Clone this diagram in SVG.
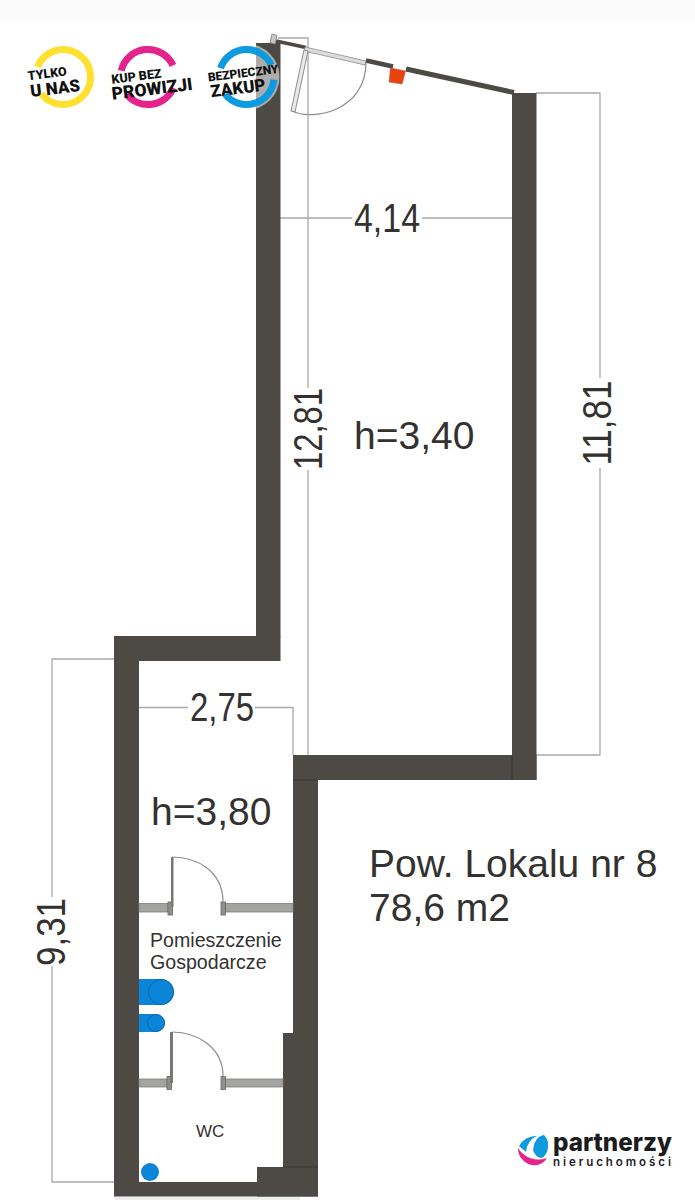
<svg xmlns="http://www.w3.org/2000/svg" width="695" height="1200" viewBox="0 0 695 1200">
<style>
.w{fill:#4d4945}
.p{fill:#a3a3a1;stroke:#7d7d7b;stroke-width:.8}
.j{fill:#8f8f8d;stroke:#666;stroke-width:.8}
.dim{fill:none;stroke:#a9a9a9;stroke-width:1.3}
.arc{fill:none;stroke:#8d8d8d;stroke-width:1.2}
.t{font-family:"Liberation Sans",Arial,sans-serif;fill:#333230}
.d{font-size:40px;text-anchor:middle}
.b{font-family:"Roboto","Liberation Sans",sans-serif;font-weight:900;fill:#111;text-anchor:middle}
.r{fill:none;stroke-width:7}
</style>
<rect width="695" height="1200" fill="#fff"/>
<rect width="695" height="22" fill="#fbfbfb"/>
<rect x="115" y="1197" width="185" height="3" fill="#eee"/>
<g id="connectors">
<path class="dim" d="M280 218H352M422 218H512"/>
<path class="dim" d="M278 38H308V388M308 470V755"/>
<path class="dim" d="M536 93H600V378M600 468V755H536"/>
<path class="dim" d="M139 707.500H188M255 707.500H293V755"/>
<path class="dim" d="M114 659H52V897M52 966V1182H114"/>
</g>
<g id="walls">
<rect class="w" x="256" y="43" width="24.500" height="594"/>
<rect class="w" x="512" y="93" width="24.500" height="687"/>
<rect class="w" x="114" y="636" width="166.500" height="25"/>
<rect class="w" x="114" y="661" width="25" height="535"/>
<rect class="w" x="293" y="755" width="243.500" height="25"/>
<rect class="w" x="293" y="780" width="25" height="390"/>
<rect class="w" x="283" y="1033" width="10" height="135"/>
<rect class="w" x="114" y="1182" width="204" height="14.500"/>
<rect class="w" x="257" y="1167" width="61" height="29.500"/>
<path d="M512 755V780" stroke="#3a3734" stroke-width="1" fill="none"/>
<path d="M293 780H318M283 1167H318" stroke="#3a3734" stroke-width="1" fill="none"/>
</g>
<g id="entrance">
<path d="M276 41L306 47.500" stroke="#4d4945" stroke-width="3.500" fill="none"/>
<path d="M305 47L366 61L365 65L304 51Z" fill="#dcdcda" stroke="#8d8d8d" stroke-width=".8"/>
<path d="M366 60.500L393 66.500" stroke="#4d4945" stroke-width="4.500" fill="none"/>
<path d="M406 69L514 92.500" stroke="#4d4945" stroke-width="5" fill="none"/>
<path d="M272 34L277 35.500L275 44L270 42.500Z" fill="#c9c9c7" stroke="#8d8d8d"/>
<path d="M304 50L308 51L295 112L291 111Z" fill="#e9e9e7" stroke="#8d8d8d"/>
<path class="arc" d="M292 111C312 121 366 112 366 62"/>
<path d="M390.500 68L405.500 71L402 84L389 82Z" fill="#e8430f" stroke="#b9532f" stroke-width=".6"/>
</g>
<g id="door-utility">
<rect class="p" x="139" y="903.500" width="29" height="8.500"/>
<rect class="j" x="168" y="902" width="4.500" height="13"/>
<rect class="p" x="225" y="903.500" width="68" height="8.500"/>
<rect class="j" x="221" y="902" width="4.500" height="13"/>
<path d="M171 857H173.500V907H171Z" fill="#777"/>
<path class="arc" d="M172 857C198 857 223 872 223 902"/>
</g>
<g id="door-wc">
<rect class="p" x="139" y="1079" width="28" height="8"/>
<rect class="j" x="167" y="1076.500" width="4.500" height="13"/>
<rect class="p" x="225" y="1079" width="58" height="8"/>
<rect class="j" x="221" y="1076.500" width="4.500" height="13"/>
<path d="M170 1032H173V1083H170Z" fill="#777"/>
<path class="arc" d="M172 1032C198 1032 223 1048 223 1076"/>
</g>
<g id="fixtures">
<path d="M139 979H161A13 13 0 0 1 161 1005H139Z" fill="#0a85d8"/>
<circle cx="161" cy="992" r="12.500" fill="#0a85d8" stroke="#0b5f9c" stroke-width=".8"/>
<path d="M139 1014H156A9 9 0 0 1 156 1032H139Z" fill="#0a85d8"/>
<circle cx="156" cy="1023" r="8.500" fill="#0a85d8" stroke="#0b5f9c" stroke-width=".8"/>
<circle cx="150" cy="1172" r="9" fill="#0a85d8"/>
</g>
<g id="labels">
<text class="t d" x="387" y="231.500" textLength="66" lengthAdjust="spacingAndGlyphs">4,14</text>
<text class="t" x="354" y="449" font-size="39">h=3,40</text>
<text class="t d" transform="translate(322,429) rotate(-90)" textLength="82" lengthAdjust="spacingAndGlyphs">12,81</text>
<text class="t d" transform="translate(611,423) rotate(-90)" textLength="85" lengthAdjust="spacingAndGlyphs">11,81</text>
<text class="t d" x="222" y="721" textLength="64" lengthAdjust="spacingAndGlyphs">2,75</text>
<text class="t" x="151" y="825" font-size="39">h=3,80</text>
<text class="t d" transform="translate(65,932) rotate(-90)" textLength="68" lengthAdjust="spacingAndGlyphs">9,31</text>
<text class="t" x="369" y="877" font-size="39">Pow. Lokalu nr 8</text>
<text class="t" x="369" y="921" font-size="39">78,6 m2</text>
<text class="t" x="150" y="946.500" font-size="19.600">Pomieszczenie</text>
<text class="t" x="150" y="968.500" font-size="19.600">Gospodarcze</text>
<text class="t" x="196" y="1137" font-size="17">WC</text>
</g>
<g id="badge-tylko">
<path class="r" stroke="#fde030" d="M37.500 66.800A27.500 27.500 0 1 1 41 93.500"/>
<g transform="rotate(-7 55 80)">
<text class="b" x="48" y="77" font-size="12.500">TYLKO</text>
<text class="b" x="54" y="94" font-size="17">U NAS</text>
</g>
</g>
<g id="badge-kup">
<path class="r" stroke="#e5238c" d="M121.200 70.800A27.500 27.500 0 0 1 173 65.500"/>
<path class="r" stroke="#e5238c" d="M126.800 94.500A27.500 27.500 0 0 0 173.300 87.800"/>
<g transform="rotate(-7 150 80)">
<text class="b" x="137" y="79" font-size="12.500">KUP BEZ</text>
<text class="b" x="151" y="95" font-size="17.500">PROWIZJI</text>
</g>
</g>
<g id="badge-zakup">
<circle cx="246.500" cy="77" r="33" fill="#fff" fill-opacity=".55"/>
<path class="r" stroke="#0d9ade" d="M220.500 68.200A27.500 27.500 0 0 1 271.300 65"/>
<path class="r" stroke="#0d9ade" d="M273.900 79.700A27.500 27.500 0 0 1 225.200 94.400"/>
<g transform="rotate(-7 245 80)">
<text class="b" x="244" y="77" font-size="12">BEZPIECZNY</text>
<text class="b" x="237" y="93" font-size="17">ZAKUP</text>
</g>
</g>
<g id="logo">
<path d="M519 1146A20 20 0 0 1 537 1136A18 18 0 0 0 526 1152Z" fill="#0d9ade"/>
<path d="M544 1135A14 14 0 0 1 548 1146A9 12 0 0 1 541 1158A10 14 0 0 1 533 1150A12 16 0 0 1 544 1135Z" fill="#0d9ade"/>
<path d="M518 1148A24 24 0 0 0 547 1158A15 15 0 0 1 532 1165A17 17 0 0 1 518 1148Z" fill="#e5238c"/>
<text x="553" y="1151" font-family="Inter,'Liberation Sans',sans-serif" font-weight="800" font-size="25" fill="#1c1c1c" textLength="119" lengthAdjust="spacingAndGlyphs">partnerzy</text>
<text x="553" y="1166" font-family="Inter,'Liberation Sans',sans-serif" font-weight="600" font-size="11.500" fill="#1c1c1c" textLength="118">nieruchomości</text>
</g>
</svg>
